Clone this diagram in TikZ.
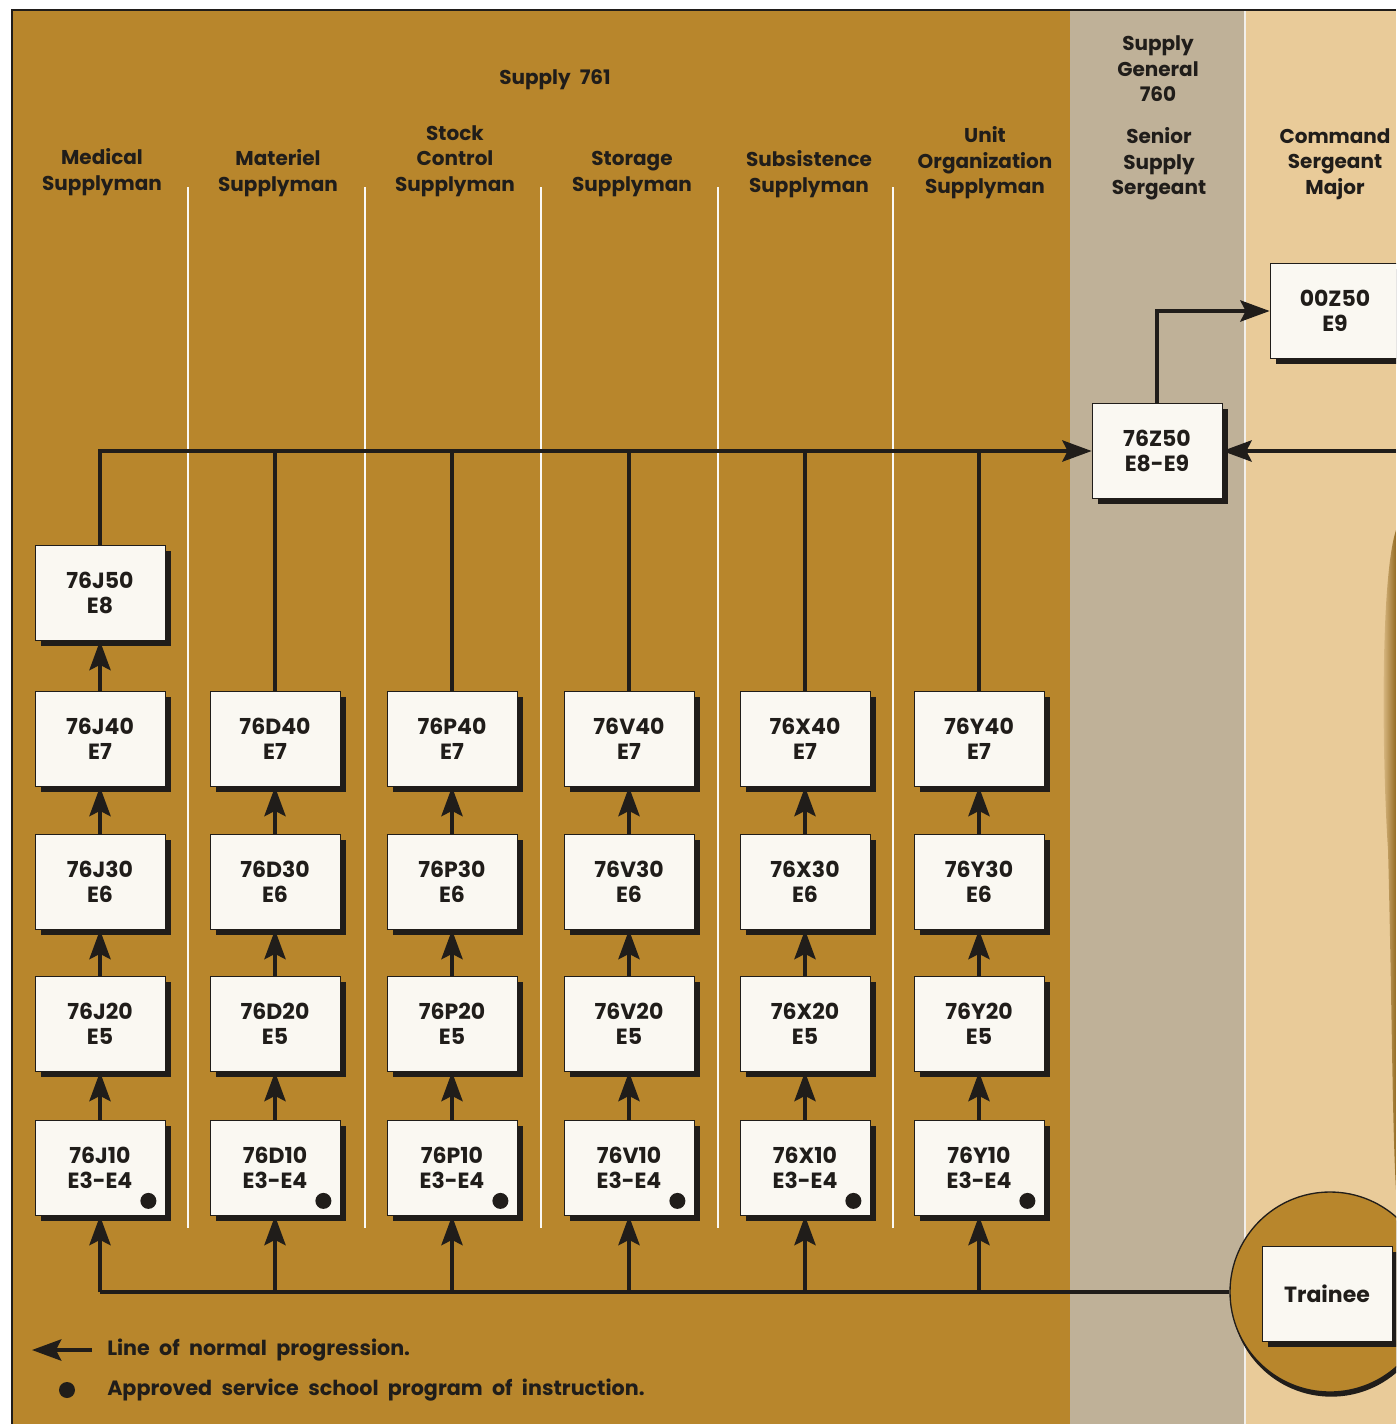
\documentclass[tikz,border=0pt]{standalone}
\usepackage{fontspec}
\setmainfont{Poppins}
\usetikzlibrary{arrows.meta,shadows,calc}
\definecolor{panelbrown}{RGB}{184,134,44}
\definecolor{panelgray}{RGB}{191,177,152}
\definecolor{panelbeige}{RGB}{233,203,153}
\definecolor{boxwhite}{RGB}{250,248,242}
\definecolor{ink}{RGB}{32,29,26}
\newcommand\hdfont{\bfseries\fontsize{15}{19.2}\selectfont}
\newcommand\bxfont{\bfseries\fontsize{16.5}{18.8}\selectfont}
\newcommand\lgfont{\bfseries\fontsize{15.5}{18}\selectfont\spaceskip=0.45em plus 0.1em}
\tikzset{
  jobbox/.style={rectangle, fill=boxwhite, draw=ink, line width=0.6pt,
    minimum width=97.5pt, minimum height=71.25pt, align=center, inner sep=0pt,
    font=\bxfont, text=ink,
    drop shadow={shadow xshift=4.5pt, shadow yshift=-4pt, fill=ink, opacity=1}},
  prog/.style={-{Stealth[length=22pt,width=16pt,inset=4pt]}, line width=2.3pt, draw=ink},
  link/.style={line width=2.3pt, draw=ink},
  sep/.style={draw=white!95!panelbrown, line width=2.2pt},
  hd/.style={align=center, font=\hdfont, text=ink, inner sep=0pt},
  lg/.style={font=\lgfont, text=ink, inner sep=0pt},
  dot/.style={circle, fill=ink, minimum size=12pt, inner sep=0pt}
}
\begin{document}
\begin{tikzpicture}[x=0.75pt,y=-0.75pt]
\useasboundingbox (0,0) rectangle (1396,1424);
\clip (0,0) rectangle (1396,1424);
% panels
\fill[white] (0,0) rectangle (1396,1424);
\fill[panelbrown] (12,10) rectangle (1070,1424);
\fill[panelgray] (1070,10) rectangle (1245,1424);
\fill[panelbeige] (1245,10) rectangle (1396,1424);
\draw[white!80!panelgray, line width=1.5pt] (1245,10) -- (1245,1424);
\draw[ink, line width=1pt] (12,1424) -- (12,10) -- (1396,10);
\shade[left color=panelbeige, right color=panelbrown!80!black]
  (1396,530) .. controls (1380,580) and (1382,760) .. (1388,850)
  .. controls (1392,1000) and (1392,1120) .. (1396,1190) -- cycle;
% separators
\foreach \x in {188,365,541,718,893} \draw[sep] (\x,187) -- (\x,1228);
% headers
\node[hd] (supply761) at (555,80) {Supply\hspace{0.45em}761};
\node[hd] (hJ) at (102,172) {Medical\\Supplyman};
\node[hd] (hD) at (278,173) {Materiel\\Supplyman};
\node[hd] (hP) at (455,161) {Stock\\Control\\Supplyman};
\node[hd] (hV) at (632,174) {Storage\\Supplyman};
\node[hd] (hX) at (809,174) {Subsistence\\Supplyman};
\node[hd] (hY) at (985,163) {Unit\\Organization\\Supplyman};
\node[hd] (h760) at (1158,69) {Supply\\General\\760};
\node[hd] (hSSS) at (1159,164) {Senior\\Supply\\Sergeant};
\node[hd] (hCSM) at (1335,164) {Command\\Sergeant\\Major};
% top boxes
\node[jobbox] (Z50) at (1157,451) {76Z50\\E8-E9};
\node[jobbox] (CSM) at (1335,311) {00Z50\\E9};
\node[jobbox] (J50) at (100,593) {76J50\\E8};
% trainee
\node[circle, minimum size=150pt, fill=panelbrown, draw=ink, line width=1pt,
  drop shadow={shadow xshift=1pt, shadow yshift=-3.5pt, fill=ink, opacity=1}] (circ) at (1330,1292) {};
\node[jobbox] (trainee) at (1327,1294) {Trainee};
% columns
\foreach \c/\x in {J/100,D/275,P/452,V/629,X/805,Y/979} {
  \node[jobbox] (\c40) at (\x,739) {76\c40\\E7};
  \node[jobbox] (\c30) at (\x,882) {76\c30\\E6};
  \node[jobbox] (\c20) at (\x,1024) {76\c20\\E5};
  \node[jobbox] (\c10) at (\x,1168) {76\c10\\E3-E4};
  \node[dot] (\c dot) at ($(\c10.south east)+(-17,-15)$) {};
  \draw[prog] (\c10.north) -- (\c20.south);
  \draw[prog] (\c20.north) -- (\c30.south);
  \draw[prog] (\c30.north) -- (\c40.south);
  \draw[prog] (\c10.south |- circ.west) -- (\c10.south);
}
\draw[prog] (J40.north) -- (J50.south);
\draw[prog] (J50.north) |- (Z50.west);
\foreach \c in {D,P,V,X,Y} \draw[link] (\c40.north) -- (\c40.north |- Z50.west);
\draw[link] (circ.west) -- (J10.south |- circ.west);
\draw[prog] (Z50.north) |- (CSM.west);
\coordinate (rin) at (1396,451);
\draw[prog] (rin) -- (Z50.east);
% legend
\coordinate (lgA) at (92,1350);
\coordinate (lgB) at (32,1350);
\draw[prog] (lgA) -- (lgB);
\node[lg, anchor=west] (lg1) at (107,1350) {Line of normal progression.};
\node[dot] (lgdot) at (67,1390) {};
\node[lg, anchor=west] (lg2) at (107,1390) {Approved service school program of instruction.};
\end{tikzpicture}
\end{document}
